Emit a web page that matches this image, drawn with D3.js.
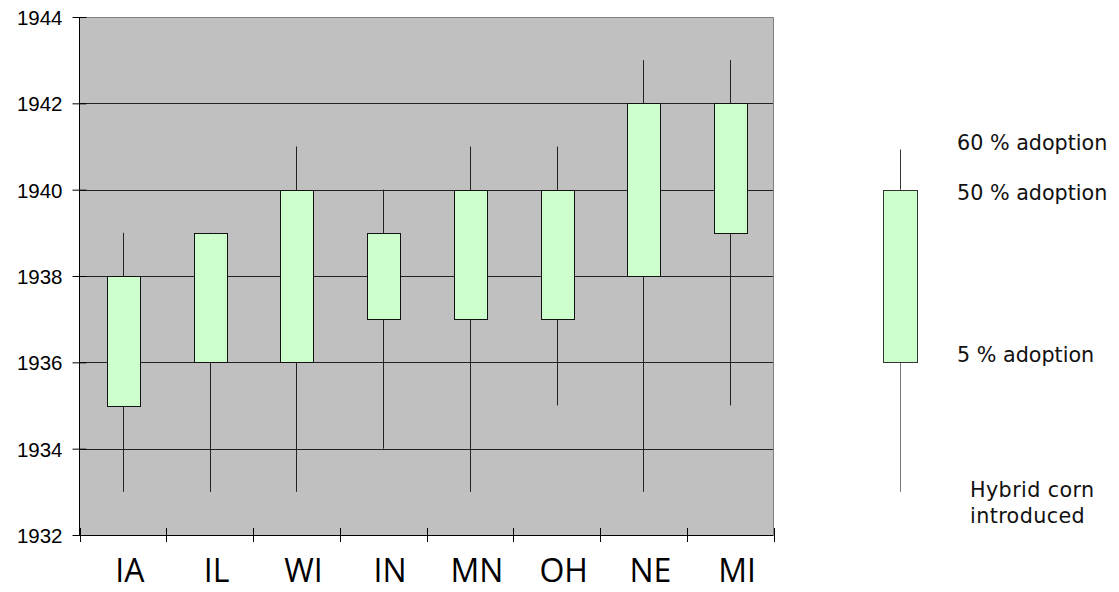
<!DOCTYPE html>
<html><head><meta charset="utf-8">
<script src="https://cdn.jsdelivr.net/npm/d3@7"></script>
<style>body{margin:0;background:#fff;}svg{display:block;}</style>
</head><body>
<svg id="c" width="1119" height="592"></svg>
<script>
const states = ["IA","IL","WI","IN","MN","OH","NE","MI"];
const introduced = [1933,1933,1933,1934,1933,1935,1933,1935];
const adopt5 = [1935,1936,1936,1937,1937,1937,1938,1939];
const adopt50 = [1938,1939,1940,1939,1940,1940,1942,1942];
const adopt60 = [1939,1939,1941,1940,1941,1941,1943,1943];
const yTicks = [1932,1934,1936,1938,1940,1942,1944];
const legendValues = {low:1933, q1:1936, q3:1940, high:1940.93};
const legendLabels = ["60 % adoption","50 % adoption","5 % adoption"];

const svg = d3.select("#c");
const L=79.5, R=773.5, T=17, B=535;
const y = d3.scaleLinear().domain([1932,1944]).range([B,T]);
const x = d3.scaleBand().domain(states).range([L,R]);
const bw = 33;

svg.append("rect").attr("x",L).attr("y",T).attr("width",R-L).attr("height",B-T).attr("fill","#c0c0c0");
// grid
svg.selectAll("line.g").data(yTicks.filter(d=>d>1932&&d<1944)).enter().append("line")
  .attr("x1",L).attr("x2",R).attr("y1",d=>Math.round(y(d))+0.5).attr("y2",d=>Math.round(y(d))+0.5)
  .attr("stroke","#222").attr("stroke-width",1);
// border top/right
svg.append("path").attr("d",`M${L},${T+0.5}H${R}V${B}`).attr("fill","none").attr("stroke","#808080").attr("stroke-width",1);

const data = states.map((s,i)=>({s,lo:introduced[i],q1:adopt5[i],q3:adopt50[i],hi:adopt60[i]}));
const g = svg.append("g");
data.forEach(d=>{
  const cx = Math.round(x(d.s)+x.bandwidth()/2)+0.5;
  g.append("line").attr("x1",cx).attr("x2",cx).attr("y1",y(d.lo)).attr("y2",y(d.hi)).attr("stroke","#222").attr("stroke-width",1);
  g.append("rect").attr("x",Math.round(cx-bw/2)+0.5).attr("y",Math.round(y(d.q3))+0.5).attr("width",bw)
   .attr("height",Math.round(y(d.q1))-Math.round(y(d.q3))).attr("fill","#ccffcc").attr("stroke","#111").attr("stroke-width",1);
});

// y axis
const ya = svg.append("g").attr("transform",`translate(${L},0)`)
  .call(d3.axisLeft(y).tickValues(yTicks).tickFormat(d3.format("d")).tickSize(7).tickPadding(10));
ya.select(".domain").remove();
ya.selectAll(".tick line").attr("x2",-7).attr("x1",7).attr("stroke","#000");
ya.selectAll(".tick text").attr("font-family","Liberation Sans, Arial, sans-serif").attr("font-size",20.5).attr("fill","#000").attr("dy","0.36em");
svg.append("line").attr("x1",L).attr("x2",L).attr("y1",T).attr("y2",B).attr("stroke","#000");

// x axis
const xa = svg.append("g").attr("transform",`translate(7,${B})`)
  .call(d3.axisBottom(x).tickSize(0).tickPadding(24));
xa.select(".domain").remove();
xa.selectAll(".tick text").attr("font-family","Open Sans, sans-serif").attr("font-size",32).attr("fill","#000").attr("dy","0.71em");
svg.append("line").attr("x1",L).attr("x2",R).attr("y1",B+0.5).attr("y2",B+0.5).attr("stroke","#000");
const bounds = [L].concat(states.map(s=>x(s)+x.bandwidth()));
svg.selectAll("line.xt").data(bounds).enter().append("line")
  .attr("x1",d=>Math.round(d)+0.5).attr("x2",d=>Math.round(d)+0.5).attr("y1",B-7).attr("y2",B+7).attr("stroke","#000");

// legend
const lx = 900.5;
svg.append("line").attr("x1",lx).attr("x2",lx).attr("y1",y(legendValues.high)).attr("y2",y(legendValues.q3)).attr("stroke","#333");
svg.append("line").attr("x1",lx).attr("x2",lx).attr("y1",y(legendValues.q1)).attr("y2",y(legendValues.low)).attr("stroke","#777");
svg.append("rect").attr("x",lx-bw/2-0.5).attr("y",Math.round(y(legendValues.q3))+0.5).attr("width",34)
  .attr("height",Math.round(y(legendValues.q1))-Math.round(y(legendValues.q3))).attr("fill","#ccffcc").attr("stroke","#333");
const tf = "DejaVu Sans, Verdana, sans-serif";
const lt = svg.append("g").attr("font-family",tf).attr("font-size",20.7).attr("fill","#111");
lt.append("text").attr("x",957).attr("y",150).text(legendLabels[0]);
lt.append("text").attr("x",957).attr("y",200).text(legendLabels[1]);
lt.append("text").attr("x",957).attr("y",362).text(legendLabels[2]);
const ht = lt.append("text").attr("x",970).attr("y",497).attr("letter-spacing",0.4);
ht.append("tspan").attr("x",970).text("Hybrid corn");
ht.append("tspan").attr("x",970).attr("y",523).text("introduced");
</script>
</body></html>
